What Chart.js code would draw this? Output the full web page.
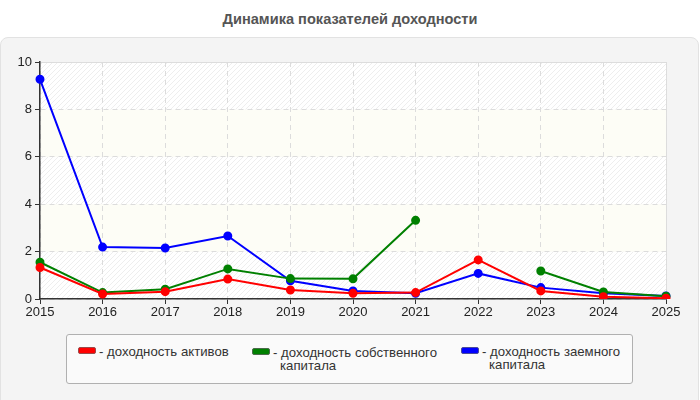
<!DOCTYPE html>
<html>
<head>
<meta charset="utf-8">
<script src="https://cdn.jsdelivr.net/npm/chart.js@4"></script>
<style>
  body { margin: 0; width: 700px; height: 400px; overflow: hidden; background: #fff; font-family: "Liberation Sans", Arial, sans-serif; position: relative; }
  #title { position: absolute; top: 11px; left: 0; width: 700px; text-align: center; font-size: 14.6px; font-weight: bold; color: #555; }
  #panel { position: absolute; left: 0; top: 37px; width: 697px; height: 370px; background: #f4f4f4; border: 1px solid #e2e2e2; border-radius: 8px; }
  #wrap { position: absolute; left: 0; top: 45px; width: 700px; height: 279px; }
  #legend { position: absolute; left: 66px; top: 334px; width: 565px; height: 48px; background: #fafafa; border: 1px solid #b0b0b0; border-radius: 3px; }
  .item { position: absolute; font-size: 13.2px; color: #333; line-height: 13px; }
  .sw { position: absolute; top: 2px; left: 0; width: 16px; height: 5px; border-radius: 2px; }
  .txt { position: absolute; left: 21px; top: 0; white-space: nowrap; }
  .txt span { display: inline-block; width: 7px; }
</style>
</head>
<body>
<div id="title">Динамика показателей доходности</div>
<div id="panel"></div>
<div id="wrap"><canvas id="chart"></canvas></div>
<div id="legend"></div>
<script>
// Chart data
const years = ['2015', '2016', '2017', '2018', '2019', '2020', '2021', '2022', '2023', '2024', '2025'];
const assetsReturn = [1.33, 0.21, 0.31, 0.84, 0.38, 0.24, 0.27, 1.65, 0.34, 0.10, 0.03];
const equityReturn = [1.55, 0.27, 0.41, 1.27, 0.86, 0.85, 3.32, null, 1.18, 0.30, 0.12];
const debtReturn = [9.27, 2.19, 2.15, 2.66, 0.77, 0.34, 0.24, 1.08, 0.48, 0.24, 0.13];
const seriesNames = ['доходность активов', 'доходность собственного\nкапитала', 'доходность заемного\nкапитала'];
const seriesColors = ['#ff0000', '#008000', '#0000ff'];
const yTicks = [0, 2, 4, 6, 8, 10];

// Striped background bands
const bandsPlugin = {
    id: 'bands',
    beforeDraw(chart) {
        const { ctx, chartArea, scales } = chart;
        const pc = document.createElement('canvas');
        pc.width = 5; pc.height = 5;
        const p = pc.getContext('2d');
        p.fillStyle = '#ffffff';
        p.fillRect(0, 0, 5, 5);
        p.strokeStyle = '#eeeeee';
        p.lineWidth = 1;
        p.beginPath();
        p.moveTo(0, 5); p.lineTo(5, 0);
        p.moveTo(-1, 1); p.lineTo(1, -1);
        p.moveTo(4, 6); p.lineTo(6, 4);
        p.stroke();
        const hatch = ctx.createPattern(pc, 'repeat');
        ctx.save();
        for (let i = 0; i < yTicks.length - 1; i++) {
            const top = scales.y.getPixelForValue(yTicks[i + 1]);
            const bottom = scales.y.getPixelForValue(yTicks[i]);
            ctx.fillStyle = i % 2 === 0 ? hatch : '#fdfdf6';
            ctx.fillRect(chartArea.left, top, chartArea.right - chartArea.left, bottom - top);
        }
        ctx.strokeStyle = '#dddddd';
        ctx.beginPath();
        ctx.moveTo(chartArea.right + 0.5, chartArea.top);
        ctx.lineTo(chartArea.right + 0.5, chartArea.bottom);
        ctx.moveTo(chartArea.left, chartArea.top + 0.5);
        ctx.lineTo(chartArea.right, chartArea.top + 0.5);
        ctx.stroke();
        ctx.restore();
    }
};

function makeDataset(label, data, color) {
    return {
        label: label,
        data: data,
        borderColor: color,
        backgroundColor: color,
        borderWidth: 2,
        pointRadius: 3.5,
        pointHoverRadius: 4,
        tension: 0,
        spanGaps: false
    };
}

new Chart(document.getElementById('chart'), {
    type: 'line',
    data: {
        labels: years,
        datasets: [
            makeDataset(seriesNames[0], assetsReturn, seriesColors[0]),
            makeDataset(seriesNames[1], equityReturn, seriesColors[1]),
            makeDataset(seriesNames[2], debtReturn, seriesColors[2])
        ]
    },
    options: {
        responsive: true,
        maintainAspectRatio: false,
        animation: false,
        layout: { padding: { top: 17, right: 34, left: 0, bottom: 0 } },
        plugins: {
            legend: { display: false },
            tooltip: { enabled: false }
        },
        scales: {
            x: {
                offset: false,
                afterFit: scale => { scale.height = 25; },
                grid: {
                    color: '#dcdcdc',
                    tickColor: '#333333',
                    tickLength: 5
                },
                border: { color: '#333333', width: 1.5, dash: [5, 4] },
                ticks: { color: '#222', font: { family: 'Liberation Sans', size: 13 }, padding: 1, maxRotation: 0, autoSkip: false }
            },
            y: {
                min: 0,
                max: 10,
                afterFit: scale => { scale.width = 40; },
                afterBuildTicks: scale => { scale.ticks = yTicks.map(v => ({ value: v })); },
                grid: {
                    color: '#dcdcdc',
                    tickColor: '#333333',
                    tickLength: 5
                },
                border: { color: '#333333', width: 1.5, dash: [5, 4] },
                ticks: { color: '#222', font: { family: 'Liberation Sans', size: 13 }, padding: 3 }
            }
        }
    },
    plugins: [bandsPlugin]
});

// HTML legend
const legendLeft = [11, 185, 394];
const legendTop = [10, 11, 10];
const swatchBorder = ['#9a4a4a', '#4a6a4a', '#4a4a9a'];
const legend = document.getElementById('legend');
seriesNames.forEach((name, i) => {
    const item = document.createElement('div');
    item.className = 'item';
    item.style.left = legendLeft[i] + 'px';
    item.style.top = legendTop[i] + 'px';
    item.innerHTML = '<div class="sw" style="background:' + seriesColors[i] + ';border:1px solid ' + swatchBorder[i] + '"></div>'
        + '<div class="txt">-&nbsp;' + name.replace('\n', '<br><span></span>') + '</div>';
    legend.appendChild(item);
});
</script>
</body>
</html>
